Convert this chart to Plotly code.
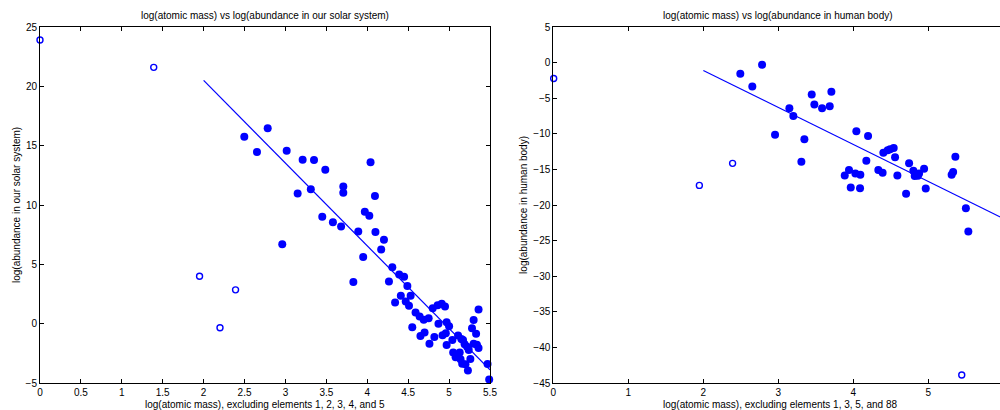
import plotly.graph_objects as go

# ---------------- data: solar system (left panel) ----------------
solar_excl_x = [0.0, 1.39, 1.95, 2.2, 2.39]
solar_excl_y = [23.9, 21.6, 4.0, -0.35, 2.85]

solar_x = [2.497, 2.652, 2.783, 2.961, 3.015, 3.149, 3.21, 3.31, 3.349, 3.45,
           3.487, 3.58, 3.68, 3.707, 3.707, 3.83, 3.89, 3.95, 3.97, 4.025,
           4.04, 4.094, 4.10, 4.17, 4.204,
           4.306, 4.265, 4.39, 4.45, 4.49, 4.34, 4.41, 4.53, 4.47, 4.51,
           4.59, 4.64, 4.69, 4.75, 4.55, 4.65, 4.70, 4.76, 4.82, 4.80,
           4.86, 4.91, 4.95, 4.87, 4.97, 5.0, 4.92, 4.96, 4.97, 5.04,
           5.11, 5.15, 5.05, 5.13, 5.08, 5.14, 5.16, 5.2, 5.23, 5.26,
           5.19, 5.22, 5.28, 5.3, 5.33, 5.36, 5.3, 5.34, 5.36, 5.47, 5.49,
           5.24, 5.17]
solar_y = [15.76, 14.47, 16.46, 6.69, 14.58, 10.96, 13.82, 11.33, 13.8, 9.02,
           12.98, 8.55, 8.18, 11.55, 11.04, 3.52, 7.76, 5.62, 9.44, 9.1,
           13.6, 10.76, 7.73, 6.24, 7.08,
           4.75, 3.55, 4.14, 3.96, 3.18, 1.78, 2.36, 2.36, 1.86, 1.5,
           0.95, 0.6, 0.32, 0.45, -0.31, -1.04, -0.75, -1.7, -1.13, 1.3,
           1.55, 1.67, 1.45, 0.0, 0.11, -0.22, -0.98, -0.81, -1.8, -1.37,
           -1.0, -1.29, -2.43, -2.43, -2.83, -3.0, -3.37, -3.42, -3.95, -2.97,
           -1.74, -1.94, -0.38, 0.3, -0.86, 1.2, -1.7, -1.78, -2.06, -3.4, -4.7,
           -2.21, -1.37]

solar_fit_x = [2.0, 5.5]
solar_fit_y = [20.5, -3.9]

# ---------------- data: human body (right panel) ----------------
human_excl_x = [0.005, 1.947, 2.39, 5.445]
human_excl_y = [-2.23, -17.25, -14.15, -43.87]

human_x = [2.493, 2.653, 2.783, 2.956, 3.147, 3.2, 3.307, 3.347, 3.445, 3.48,
           3.583, 3.685, 3.707, 3.885, 3.942, 3.965, 4.027, 4.04, 4.093, 4.089,
           4.173, 4.196, 4.333, 4.39, 4.4, 4.458, 4.49, 4.538, 4.556, 4.587,
           4.703, 4.743, 4.8, 4.818, 4.876, 4.86, 4.943, 4.965, 5.31, 5.33,
           5.36, 5.5, 5.533]
human_y = [-1.58, -3.36, -0.3, -10.12, -6.41, -7.49, -13.92, -10.77, -4.48, -5.89,
           -6.41, -6.13, -4.11, -15.85, -15.1, -17.54, -15.56, -9.65, -15.75, -17.63,
           -13.78, -10.3, -15.1, -15.47, -12.65, -12.32, -12.18, -12.0, -13.31, -15.85,
           -18.42, -14.15, -15.18, -15.94, -15.56, -15.9, -14.9, -17.68, -15.75, -15.38,
           -13.21, -20.45, -23.73]

human_fit_x = [2.0, 6.0]
human_fit_y = [-1.1, -21.9]

# ---------------- text ----------------
title_left = "log(atomic mass) vs log(abundance in our solar system)"
title_right = "log(atomic mass) vs log(abundance in human body)"
xlabel_left = "log(atomic mass), excluding elements 1, 2, 3, 4, and 5"
xlabel_right = "log(atomic mass), excluding elements 1, 3, 5, and 88"
ylabel_left = "log(abundance in our solar system)"
ylabel_right = "log(abundance in human body)"

BLUE = "#0000ff"
FONT = "Liberation Sans, Arial, Helvetica, sans-serif"

fig = go.Figure()

def add_panel(xa, ya, ex_x, ex_y, fx, fy, lx, ly):
    fig.add_trace(go.Scatter(x=fx, y=fy, mode="markers", xaxis=xa, yaxis=ya,
                             marker=dict(symbol="circle", size=8, color=BLUE,
                                         line=dict(width=0)),
                             cliponaxis=False, showlegend=False))
    fig.add_trace(go.Scatter(x=ex_x, y=ex_y, mode="markers", xaxis=xa, yaxis=ya,
                             marker=dict(symbol="circle-open", size=6, color=BLUE,
                                         line=dict(width=1.4, color=BLUE)),
                             cliponaxis=False, showlegend=False))
    fig.add_trace(go.Scatter(x=lx, y=ly, mode="lines", xaxis=xa, yaxis=ya,
                             line=dict(color=BLUE, width=1.2),
                             showlegend=False))

add_panel("x", "y", solar_excl_x, solar_excl_y, solar_x, solar_y, solar_fit_x, solar_fit_y)
add_panel("x2", "y2", human_excl_x, human_excl_y, human_x, human_y, human_fit_x, human_fit_y)

axis_common = dict(showline=True, linecolor="black", linewidth=1, ticks="inside",
                   ticklen=4, tickcolor="black", tickwidth=1, showgrid=False,
                   zeroline=False, automargin=False,
                   tickfont=dict(family=FONT, size=10, color="black"))

fig.update_layout(
    width=1000, height=410,
    margin=dict(l=40, r=0, t=27, b=27, autoexpand=False),
    paper_bgcolor="white", plot_bgcolor="white",
    font=dict(family=FONT, size=10, color="black"),
    xaxis=dict(domain=[0, 0.46875], range=[0, 5.5], dtick=0.5, tick0=0,
               mirror="ticks", anchor="y", **axis_common),
    yaxis=dict(domain=[0, 1], range=[-5, 25], dtick=5, tick0=0,
               mirror="ticks", anchor="x", **axis_common),
    xaxis2=dict(domain=[0.5347, 1], range=[0, 5.955], dtick=1, tick0=0,
                mirror="ticks", anchor="y2", **axis_common),
    yaxis2=dict(domain=[0, 1], range=[-45, 5], dtick=5, tick0=0,
                mirror=False, anchor="x2", **axis_common),
)

ann_font = dict(family=FONT, size=10, color="black")
anns = [
    dict(text=title_left, x=0.2344, y=1.031, xanchor="center", yanchor="middle"),
    dict(text=title_right, x=0.769, y=1.031, xanchor="center", yanchor="middle"),
    dict(text=xlabel_left, x=0.2344, y=-0.059, xanchor="center", yanchor="middle"),
    dict(text=xlabel_right, x=0.771, y=-0.059, xanchor="center", yanchor="middle"),
    dict(text=ylabel_left, x=-0.025, y=0.5, xanchor="center", yanchor="middle", textangle=-90),
    dict(text=ylabel_right, x=0.503, y=0.5, xanchor="center", yanchor="middle", textangle=-90),
]
for a in anns:
    fig.add_annotation(xref="paper", yref="paper", showarrow=False, font=ann_font, **a)

# remove the default page margin so the 1000x410 figure fills the window exactly
fig.write_html("out.html",
               config={"displayModeBar": False},
               post_script="document.body.style.margin='0';document.body.style.overflow='hidden';")
